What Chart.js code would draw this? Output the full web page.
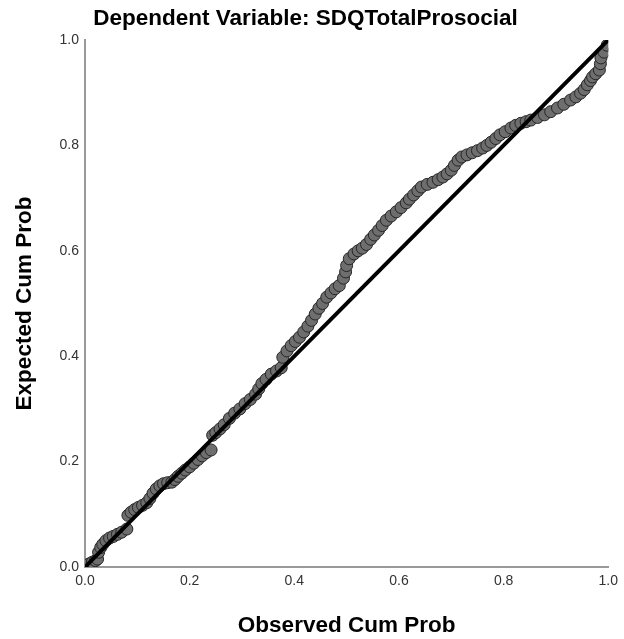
<!DOCTYPE html>
<html>
<head>
<meta charset="utf-8">
<script src="https://cdn.jsdelivr.net/npm/chart.js@4.4.1/dist/chart.umd.min.js"></script>
<style>
  html, body { margin: 0; padding: 0; background: #fff; }
  #wrap { width: 624px; height: 639px; }
</style>
</head>
<body>
<div id="wrap"><canvas id="c" width="624" height="639"></canvas></div>
<script>
// Normal P-P plot of regression standardized residual
const chartTitle = 'Dependent Variable: SDQTotalProsocial';
const xAxisTitle = 'Observed Cum Prob';
const yAxisTitle = 'Expected Cum Prob';
const tickValues = [0, 0.2, 0.4, 0.6, 0.8, 1.0];

const observedCumProb = [
  0.002, 0.008, 0.014, 0.020, 0.024, 0.026, 0.030, 0.034, 0.040, 0.047,
  0.054, 0.062, 0.070, 0.080, 0.082, 0.088, 0.095, 0.102, 0.110, 0.118,
  0.124, 0.130, 0.136, 0.143, 0.150, 0.158, 0.166, 0.172, 0.178, 0.185,
  0.192, 0.200, 0.208, 0.216, 0.224, 0.232, 0.241, 0.244, 0.250, 0.258,
  0.266, 0.276, 0.286, 0.296, 0.306, 0.316, 0.326, 0.332, 0.338, 0.346,
  0.356, 0.366, 0.375, 0.378, 0.386, 0.394, 0.402, 0.410, 0.418, 0.426,
  0.433, 0.440, 0.447, 0.454, 0.462, 0.470, 0.478, 0.486, 0.494, 0.498,
  0.500, 0.505, 0.514, 0.522, 0.530, 0.538, 0.546, 0.553, 0.561, 0.568,
  0.576, 0.585, 0.595, 0.604, 0.614, 0.620, 0.628, 0.636, 0.643, 0.654,
  0.665, 0.675, 0.684, 0.692, 0.700, 0.706, 0.713, 0.720, 0.730, 0.740,
  0.750, 0.760, 0.768, 0.776, 0.785, 0.793, 0.803, 0.814, 0.823, 0.833,
  0.843, 0.852, 0.865, 0.878, 0.890, 0.903, 0.915, 0.928, 0.938, 0.947,
  0.954, 0.960, 0.966, 0.970, 0.976, 0.983, 0.985, 0.986, 0.992, 0.998
];
const expectedCumProb = [
  0.003, 0.006, 0.009, 0.012, 0.015, 0.028, 0.037, 0.043, 0.050, 0.055,
  0.058, 0.062, 0.066, 0.072, 0.098, 0.104, 0.109, 0.113, 0.117, 0.122,
  0.130, 0.140, 0.148, 0.154, 0.158, 0.160, 0.161, 0.166, 0.172, 0.178,
  0.184, 0.190, 0.197, 0.204, 0.211, 0.217, 0.222, 0.250, 0.255, 0.262,
  0.270, 0.282, 0.292, 0.300, 0.310, 0.318, 0.328, 0.338, 0.348, 0.356,
  0.366, 0.372, 0.378, 0.398, 0.410, 0.420, 0.428, 0.436, 0.446, 0.457,
  0.468, 0.480, 0.491, 0.500, 0.512, 0.520, 0.528, 0.534, 0.548, 0.560,
  0.572, 0.585, 0.594, 0.600, 0.605, 0.612, 0.622, 0.630, 0.639, 0.648,
  0.658, 0.666, 0.674, 0.682, 0.691, 0.698, 0.706, 0.714, 0.721, 0.726,
  0.730, 0.735, 0.740, 0.746, 0.753, 0.762, 0.772, 0.778, 0.782, 0.786,
  0.790, 0.795, 0.800, 0.806, 0.813, 0.820, 0.826, 0.833, 0.838, 0.842,
  0.845, 0.848, 0.853, 0.858, 0.864, 0.871, 0.878, 0.886, 0.892, 0.899,
  0.906, 0.915, 0.923, 0.930, 0.936, 0.943, 0.955, 0.966, 0.977, 0.990
];

// Reference diagonal (observed = expected)
const diagonalX = [0, 1];
const diagonalY = [0, 1];

const points = observedCumProb.map((x, i) => ({ x, y: expectedCumProb[i] }));
const diagonal = diagonalX.map((x, i) => ({ x, y: diagonalY[i] }));

const FONT = "'Liberation Sans', Arial, sans-serif";

new Chart(document.getElementById('c'), {
  type: 'scatter',
  data: {
    datasets: [
      {
        type: 'line',
        data: diagonal,
        borderColor: '#000',
        borderWidth: 4,
        pointRadius: 0,
        fill: false,
        order: 0
      },
      {
        data: points,
        backgroundColor: '#6e6e6e',
        borderColor: '#262626',
        borderWidth: 1,
        pointRadius: 6,
        order: 1
      }
    ]
  },
  options: {
    responsive: false,
    animation: false,
    events: [],
    layout: { padding: { left: 0, right: 13, top: 0, bottom: 0 } },
    plugins: {
      legend: { display: false },
      tooltip: { enabled: false },
      title: {
        display: true,
        text: chartTitle,
        color: '#000',
        font: { family: FONT, size: 22.5, weight: 'bold' },
        padding: { top: 5, bottom: 8 }
      }
    },
    scales: {
      x: {
        type: 'linear',
        min: 0, max: 1,
        afterFit: s => { s.height = 72; },
        afterBuildTicks: s => { s.ticks = tickValues.map(v => ({ value: v })); },
        grid: { color: 'rgba(0,0,0,0)', drawTicks: false },
        border: { display: true, color: '#999', width: 2 },
        ticks: {
          padding: 6,
          color: '#333',
          font: { family: FONT, size: 14 },
          callback: v => v.toFixed(1)
        },
        title: {
          display: true,
          text: xAxisTitle,
          color: '#000',
          font: { family: FONT, size: 22.5, weight: 'bold' },
          padding: { top: 3.5, bottom: 0 }
        }
      },
      y: {
        type: 'linear',
        min: 0, max: 1,
        afterFit: s => { s.width = 85; },
        afterBuildTicks: s => { s.ticks = tickValues.map(v => ({ value: v })); },
        grid: { color: 'rgba(0,0,0,0)', drawTicks: false },
        border: { display: true, color: '#999', width: 2 },
        ticks: {
          padding: 6,
          color: '#333',
          font: { family: FONT, size: 14 },
          callback: v => v.toFixed(1)
        },
        title: {
          display: true,
          text: yAxisTitle,
          color: '#000',
          font: { family: FONT, size: 22.5, weight: 'bold' },
          padding: { top: 11.5, bottom: 0 }
        }
      }
    }
  }
});
</script>
</body>
</html>
